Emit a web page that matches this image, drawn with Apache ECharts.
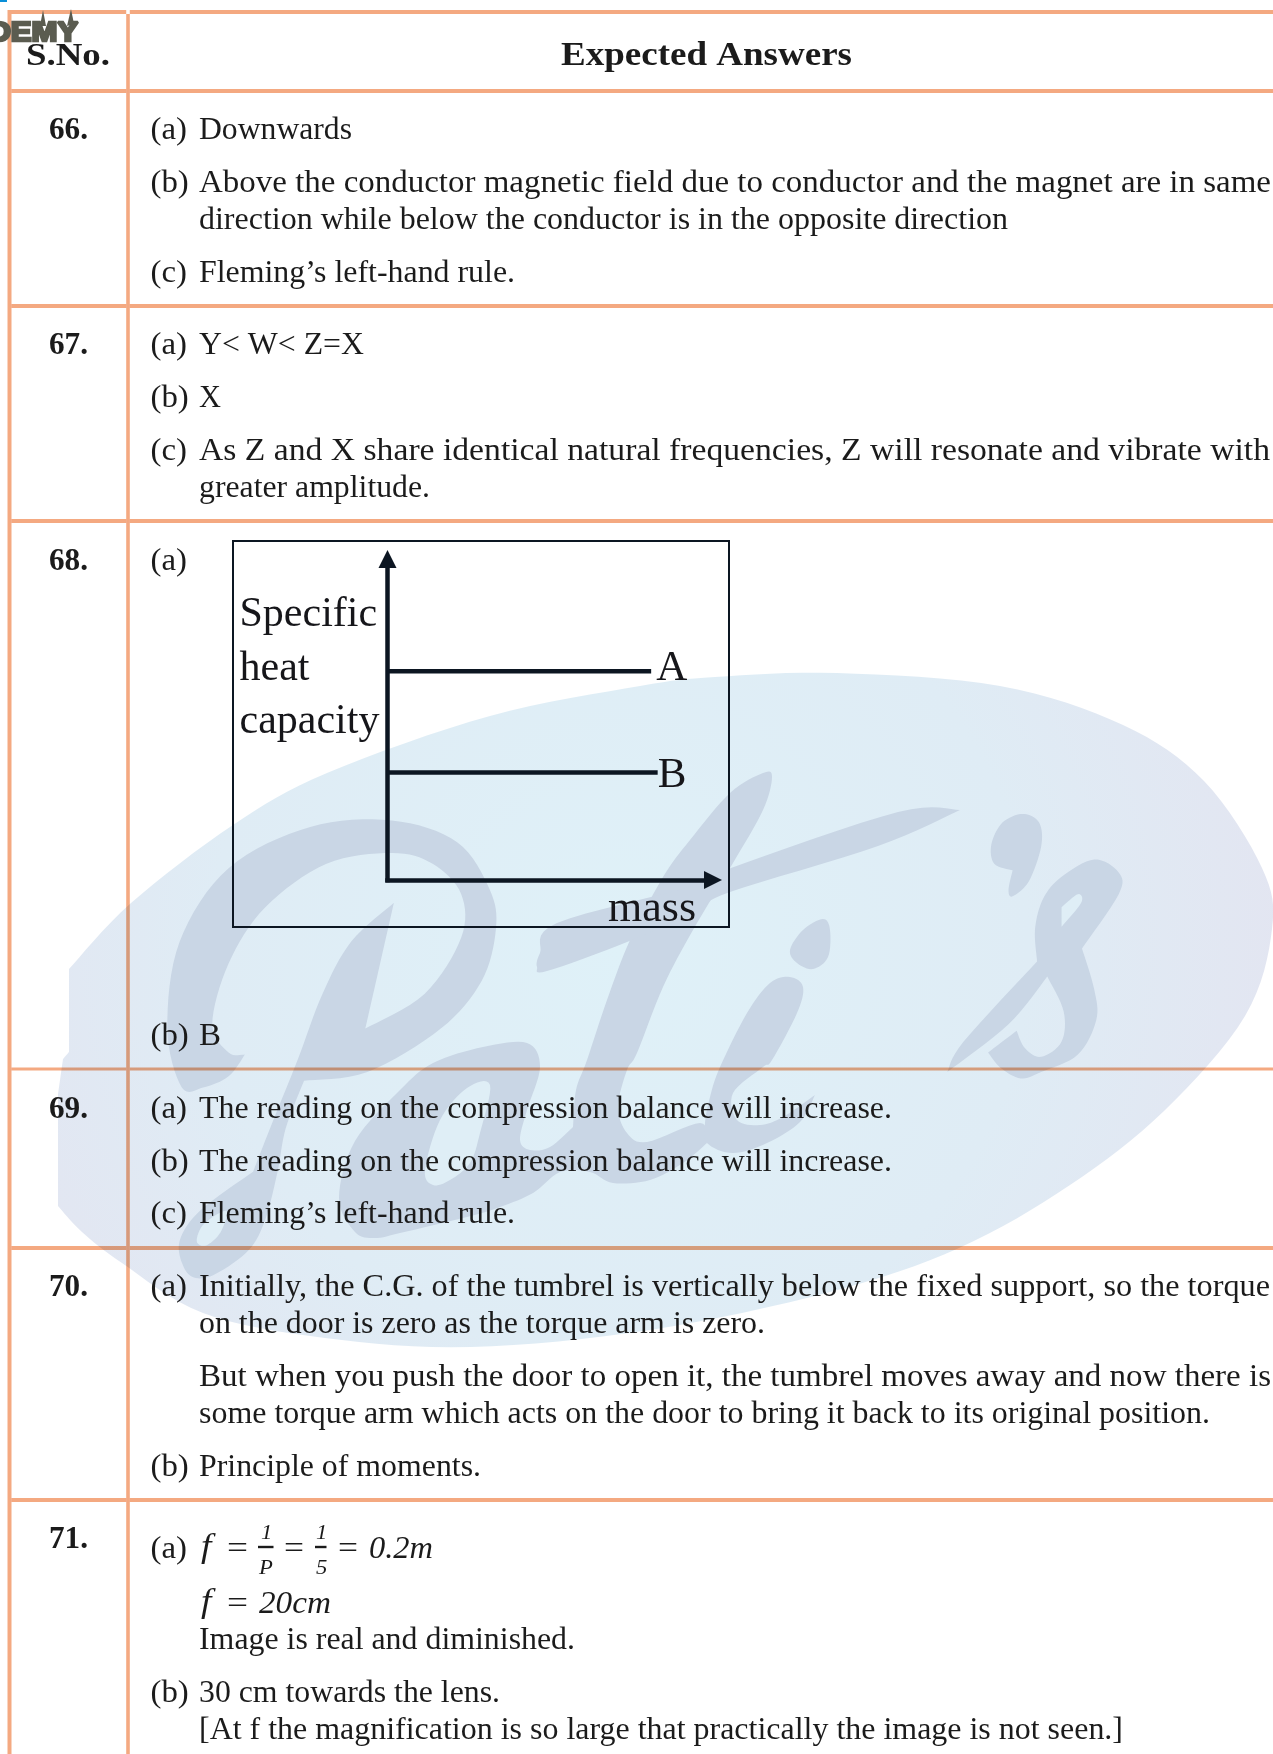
<!DOCTYPE html>
<html>
<head>
<meta charset="utf-8">
<style>
  html, body { margin: 0; padding: 0; background: #fff; }
  #page { width: 1273px; height: 1754px; }
</style>
<script src="https://cdn.jsdelivr.net/npm/echarts@6/dist/echarts.min.js"></script>
</head>
<body>
<div id="page"></div>
<script>
// chart values: specific heat capacity against mass
var massA = [0, 81];
var heatA = [65, 65];
var massB = [0, 83];
var heatB = [33.5, 33.5];
var seriesNames = ["A", "B"];
var xAxisName = "mass";
var yAxisName = "Specific\nheat\ncapacity";

// table text
var headerTexts = ["S.No.", "Expected Answers"];
var serialNumbers = ["66.", "67.", "68.", "69.", "70.", "71."];
var answerMarks = [
  "(a)", "(b)", "", "(c)",
  "(a)", "(b)", "(c)", "",
  "(a)", "(b)",
  "(a)", "(b)", "(c)",
  "(a)", "", "", "", "(b)",
  "(a)", "", "(b)", ""
];
var answerTexts = [
  "Downwards",
  "Above the conductor magnetic field due to conductor and the magnet are in same",
  "direction while below the conductor is in the opposite direction",
  "Fleming\u2019s left-hand rule.",
  "Y< W< Z=X",
  "X",
  "As Z and X share identical natural frequencies, Z will resonate and vibrate with",
  "greater amplitude.",
  "",
  "B",
  "The reading on the compression balance will increase.",
  "The reading on the compression balance will increase.",
  "Fleming\u2019s left-hand rule.",
  "Initially, the C.G. of the tumbrel is vertically below the fixed support, so the torque",
  "on the door is zero as the torque arm is zero.",
  "But when you push the door to open it, the tumbrel moves away and now there is",
  "some torque arm which acts on the door to bring it back to its original position.",
  "Principle of moments.",
  "",
  "Image is real and diminished.",
  "30 cm towards the lens.",
  "[At f the magnification is so large that practically the image is not seen.]"
];

// layout, kept apart from the text above
var answerBaselines = [138, 191.5, 228, 281, 353, 406.5, 459.5, 496.5, 569, 1044, 1117, 1170, 1222.5, 1295.5, 1332.5, 1385, 1422, 1475, 1557, 1648, 1701.5, 1738];
var answerRightEdges = [352, 1271, 1008, 515, 364, 221, 1270, 430, 0, 221, 892, 892, 515, 1270, 765, 1271, 1210, 481, 0, 575, 500, 1123];
var serialBaselines = [138, 353, 569, 1117, 1295, 1547];
var ruleRows = [12, 91, 306, 521, 1069, 1248, 1500];

var W = 1273, H = 1754;
var SERIF = '"Liberation Serif", "Times New Roman", serif';
var INK = "#1b1b1b";
var RULE = "#f4a981";
var CHART_INK = "#0c1622";

var measureCtx = document.createElement("canvas").getContext("2d");

// text placed on its baseline, squeezed to a target width when one is given
function label(text, x, baseline, opt) {
  opt = opt || {};
  var size = opt.size || 31;
  var font = (opt.italic ? "italic " : "") + (opt.bold ? "bold " : "") + size + "px " + SERIF;
  var scaleX = opt.scaleX || 1.08;
  if (opt.right) {
    measureCtx.font = font;
    scaleX = (opt.right - x) / measureCtx.measureText(text).width;
  }
  return {
    type: "text",
    z: 10,
    x: x,
    y: baseline - size * 0.3375 + 3,
    scaleX: scaleX,
    silent: true,
    style: { text: text, font: font, fill: opt.fill || INK, align: "left", verticalAlign: "middle" }
  };
}

function rule(x1, y1, x2, y2, width) {
  return {
    type: "line",
    z: 1,
    silent: true,
    shape: { x1: x1, y1: y1, x2: x2, y2: y2 },
    style: { stroke: RULE, lineWidth: width, blend: "multiply" }
  };
}

// catmull-rom through one run of outline points
function spline(run) {
  var out = [];
  for (var i = 0; i < run.length - 1; i++) {
    var p0 = run[Math.max(i - 1, 0)], p1 = run[i], p2 = run[i + 1], p3 = run[Math.min(i + 2, run.length - 1)];
    for (var s = 0; s < 8; s++) {
      var t = s / 8, t2 = t * t, t3 = t2 * t;
      out.push([
        0.5 * (2 * p1[0] + (p2[0] - p0[0]) * t + (2 * p0[0] - 5 * p1[0] + 4 * p2[0] - p3[0]) * t2 + (3 * p1[0] - p0[0] - 3 * p2[0] + p3[0]) * t3),
        0.5 * (2 * p1[1] + (p2[1] - p0[1]) * t + (2 * p0[1] - 5 * p1[1] + 4 * p2[1] - p3[1]) * t2 + (3 * p1[1] - p0[1] - 3 * p2[1] + p3[1]) * t3)
      ]);
    }
  }
  return out;
}

// closed outline: a third value of 1 on a point keeps it a sharp corner
function outline(pts) {
  var first = -1;
  pts.forEach(function (p, i) { if (p[2] && first < 0) first = i; });
  if (first < 0) {
    return spline([pts[pts.length - 1]].concat(pts, [pts[0], pts[1]])).slice(8, -8);
  }
  var loop = pts.slice(first).concat(pts.slice(0, first), [pts[first]]);
  var out = [], run = [loop[0]];
  for (var i = 1; i < loop.length; i++) {
    run.push(loop[i]);
    if (loop[i][2]) {
      out = out.concat(spline(run));
      run = [loop[i]];
    }
  }
  return out;
}

// zoom 5 of the reference was not square, so its outline is converted back to page pixels
function fromLeft(pts) {
  return pts.map(function (p) { return [p[0] / 2.45, 660 + p[1] / 2.306, p[2]]; });
}
function fromRight(pts) {
  return pts.map(function (p) { return [633 + p[0] / 2.45, 660 + p[1] / 2.306, p[2]]; });
}

function blob(points, fill, z) {
  return {
    type: "polygon",
    z: z,
    silent: true,
    shape: { points: outline(points) },
    style: { fill: fill }
  };
}

function watermark() {
  var script = "#c9d6e5";
  var hole = "#dfeef6";
  var disc = blob(
    [[69, 969, 1], [69, 1052, 1], [63, 1059, 1], [58, 1094, 1], [58, 1206, 1], [82, 1232], [122, 1263], [203, 1313], [325, 1338],
     [471, 1347], [650, 1330], [830, 1292], [959, 1248], [1070, 1185], [1164, 1111], [1245, 1016], [1272, 929], [1262, 868],
     [1204, 781], [1123, 725], [1000, 686], [837, 673], [715, 677], [640, 686], [490, 716], [327, 773], [233, 825],
     [131, 903]],
    {
      type: "radial", x: 620, y: 950, r: 680, global: true,
      colorStops: [
        { offset: 0, color: "#dff1f8" },
        { offset: 0.6, color: "#dfecf5" },
        { offset: 1, color: "#e3e5f1" }
      ]
    },
    -3
  );
  var letterP = fromLeft([
    [445, 985], [410, 850], [440, 650], [560, 480], [760, 385], [960, 370], [1120, 420], [1200, 530], [1215, 620],
    [1180, 740], [1080, 850], [900, 950], [745, 970, 1], [700, 1080], [680, 1180], [650, 1290], [610, 1360], [530, 1415],
    [480, 1425], [450, 1400], [440, 1340], [490, 1270], [620, 1180, 1], [670, 1060], [730, 920], [790, 770], [860, 650],
    [965, 560, 1], [895, 850, 1], [1040, 770], [1130, 640], [1130, 540], [1060, 470], [960, 445], [800, 470], [650, 570],
    [560, 700], [520, 840], [560, 905], [600, 910, 1], [560, 960], [500, 985]
  ]);
  var holeP = fromLeft([[482, 1340], [500, 1300], [555, 1270], [540, 1320], [505, 1350]]);
  var letterAL = [
    [763, 773], [772, 777], [763, 810], [733, 863], [693, 930], [663, 987], [637, 1053], [627, 1070], [618, 1107],
    [627, 1133], [647, 1142], [700, 1123], [707, 1143, 1], [683, 1163], [650, 1180], [613, 1183], [590, 1172], [560, 1172],
    [533, 1193], [500, 1207], [467, 1217], [400, 1233], [375, 1238], [355, 1232], [339, 1198], [355, 1141], [400, 1090],
    [433, 1063], [483, 1047], [527, 1043], [540, 1067], [527, 1110], [520, 1140], [530, 1150], [550, 1147], [573, 1127, 1],
    [576, 1090], [587, 1060], [607, 1000], [630, 940], [663, 877], [690, 840], [730, 793]
  ];
  var holeA = [[490, 1085], [467, 1088], [440, 1120], [425, 1170], [433, 1185], [450, 1180], [470, 1163], [480, 1133]];
  var crossbar = [
    [960, 810, 1], [898, 812], [731, 868], [697, 885], [557, 923], [540, 953], [537, 967], [547, 971], [627, 942], [697, 910],
    [730, 892], [878, 846]
  ];
  var letterI = [
    [790, 977], [803, 987], [797, 1013], [772, 1060], [763, 1067], [733, 1093], [737, 1120], [760, 1125], [783, 1117],
    [815, 1095, 1], [800, 1122], [767, 1143], [733, 1153], [707, 1143], [705, 1123], [710, 1097], [720, 1067], [747, 1013],
    [770, 983]
  ];
  var dotI = [[823, 919], [830, 930], [828, 957], [813, 969], [797, 963], [790, 950], [803, 930]];
  var apostrophe = fromRight([[955, 355], [995, 375], [1000, 430], [970, 510], [930, 545], [920, 530], [930, 485, 1], [885, 470], [878, 425], [905, 375]]);
  var letterS = fromRight([
    [1130, 460], [1190, 490], [1190, 540], [1100, 665, 1], [1130, 760], [1135, 830], [1090, 910], [1000, 950], [950, 965],
    [900, 940], [870, 905, 1], [940, 855, 1], [960, 895], [1000, 915], [1050, 880], [1055, 810], [1015, 730, 1], [920, 840],
    [770, 950, 1], [810, 880], [990, 695, 1], [985, 620], [1005, 550], [1050, 500]
  ]);
  var holeS = fromRight([[1050, 570, 1], [1090, 540], [1098, 560], [1050, 615, 1]]);

  return [
    disc,
    blob(letterP, script, -2),
    blob(holeP, hole, -1),
    blob(letterAL, script, -2),
    blob(holeA, hole, -1),
    blob(crossbar, script, -2),
    blob(letterI, script, -2),
    blob(dotI, script, -2),
    blob(apostrophe, script, -2),
    blob(letterS, script, -2),
    blob(holeS, hole, -1)
  ];
}

function tableRules() {
  var out = [];
  ruleRows.forEach(function (y, i) {
    var width = i === 4 ? 3 : 4;
    if (i === 0) out.push(rule(7.5, y, 126.2, y, width));
    else out.push(rule(11.5, y, 126.2, y, width));
    out.push(rule(129.8, y, W, y, width));
  });
  out.push(rule(9.5, 14, 9.5, H, 4));
  out.push(rule(128, 14, 128, H, 3.6));
  return out;
}

function tableText() {
  var out = [
    label(headerTexts[0], 26, 65, { bold: true, size: 32, right: 110 }),
    label(headerTexts[1], 561, 65, { bold: true, size: 33, right: 852 })
  ];
  serialNumbers.forEach(function (s, i) {
    out.push(label(s, 49, serialBaselines[i], { bold: true, size: 31, right: 88 }));
  });
  answerMarks.forEach(function (m, i) {
    if (m) out.push(label(m, 150.5, answerBaselines[i], { scaleX: 1.06 }));
  });
  answerTexts.forEach(function (t, i) {
    if (t) out.push(label(t, 199, answerBaselines[i], { right: answerRightEdges[i] }));
  });
  return out;
}

// question 71 (a), set by hand because of the fractions
function formula() {
  var top = 1557, second = 1612;
  var out = [
    label("f", 201, top, { italic: true, size: 34, scaleX: 1.1 }),
    label("=", 227, top, { right: 248 }),
    label("1", 261, 1538, { italic: true, size: 21 }),
    label("P", 259, 1573, { italic: true, size: 21 }),
    label("=", 284, top, { right: 304 }),
    label("1", 316, 1538, { italic: true, size: 21 }),
    label("5", 316, 1573, { italic: true, size: 21 }),
    label("=", 338, top, { right: 358 }),
    label("0.2m", 369, top, { italic: true, right: 433 }),
    label("f", 201, second, { italic: true, size: 34, scaleX: 1.1 }),
    label("=", 227, second, { right: 248 }),
    label("20cm", 259, second, { italic: true, right: 331 })
  ];
  [[258, 273.5], [315, 326.5]].forEach(function (b) {
    out.push({
      type: "line", z: 10, silent: true,
      shape: { x1: b[0], y1: 1547, x2: b[1], y2: 1547 },
      style: { stroke: INK, lineWidth: 2.4 }
    });
  });
  return out;
}

// torn corner of the academy stamp in the top left
function stamp() {
  var olive = "#5b5c50";
  return [
    { type: "rect", z: 12, silent: true, shape: { x: 0, y: 0, width: 7, height: 2 }, style: { fill: "#0a8fd8" } },
    {
      type: "text", z: 12, x: -34, y: 34, scaleX: 1.15, silent: true,
      style: {
        text: "ADEMY", font: 'bold 27px "Liberation Sans", sans-serif',
        fill: olive, stroke: olive, lineWidth: 2.5, align: "left", verticalAlign: "middle"
      }
    },
    { type: "polygon", z: 12, silent: true, shape: { points: [[43, 10], [46, 26], [40, 26]] }, style: { fill: olive } },
    { type: "polygon", z: 12, silent: true, shape: { points: [[71, 9], [74, 24], [67, 26]] }, style: { fill: olive } }
  ];
}

var chartBox = {
  type: "rect",
  z: 1,
  silent: true,
  shape: { x: 233, y: 541, width: 496, height: 386 },
  style: { fill: "none", stroke: CHART_INK, lineWidth: 2 }
};

function axis(name, max, extra) {
  var base = {
    type: "value",
    min: 0,
    max: max,
    name: name,
    axisLine: {
      show: true,
      onZero: false,
      symbol: ["none", "triangle"],
      symbolSize: [18, 18],
      lineStyle: { color: CHART_INK, width: 4.5, cap: "square" }
    },
    axisTick: { show: false },
    axisLabel: { show: false },
    splitLine: { show: false }
  };
  return Object.assign(base, extra);
}

function heatLine(name, xs, ys, labelOffset) {
  return {
    type: "line",
    name: name,
    data: xs.map(function (x, i) { return [x, ys[i]]; }),
    showSymbol: false,
    silent: true,
    lineStyle: { color: CHART_INK, width: 4.5 },
    endLabel: {
      show: true,
      formatter: "{a}",
      distance: 2,
      offset: labelOffset,
      color: "#16161a",
      fontFamily: SERIF,
      fontSize: 43
    }
  };
}

var chart = echarts.init(document.getElementById("page"), null, { renderer: "canvas" });
chart.setOption({
  animation: false,
  backgroundColor: "#fff",
  grid: { left: 387.5, top: 559, width: 325.5, height: 321, containLabel: false },
  xAxis: axis(xAxisName, 100, {
    nameLocation: "end",
    nameGap: 0,
    nameTextStyle: {
      color: "#16161a", fontFamily: SERIF, fontSize: 44,
      align: "right", verticalAlign: "top", padding: [7, 17, 0, 0]
    }
  }),
  yAxis: axis(yAxisName, 100, {
    nameLocation: "middle",
    nameRotate: 0,
    nameGap: 148,
    nameTextStyle: {
      color: "#16161a", fontFamily: SERIF, fontSize: 42, lineHeight: 53.5,
      align: "left", verticalAlign: "top", padding: [-131, 0, 0, 0]
    }
  }),
  series: [
    heatLine(seriesNames[0], massA, heatA, [3, -3]),
    heatLine(seriesNames[1], massB, heatB, [-2, 3])
  ],
  graphic: {
    elements: [].concat(watermark(), tableRules(), [chartBox], tableText(), formula(), stamp())
  }
});
</script>
</body>
</html>
